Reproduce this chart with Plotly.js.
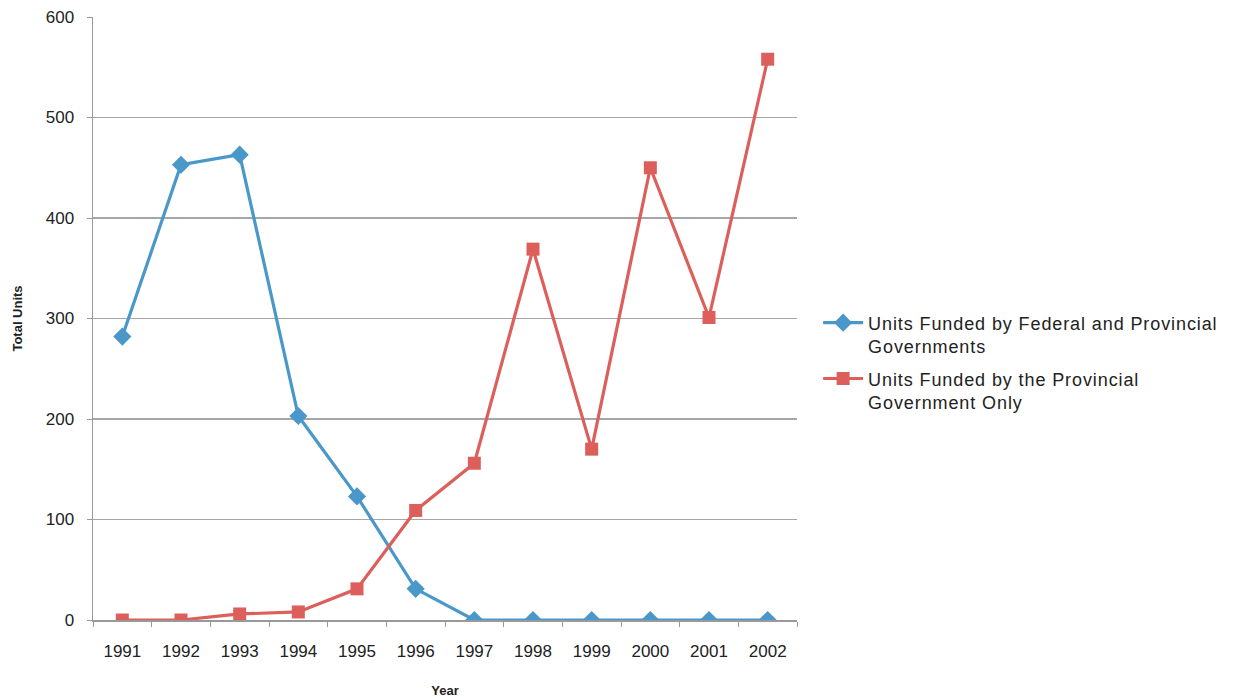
<!DOCTYPE html>
<html>
<head>
<meta charset="utf-8">
<script src="https://cdn.plot.ly/plotly-3.0.1.min.js"></script>
<style>
  html, body { margin: 0; padding: 0; background: #fff; }
  #chart { width: 1233px; height: 700px; }
  /* wider legend lettering; let the entries run past the measured legend box */
  #chart .legendtext { letter-spacing: 0.9px; }
  #chart .legend .scrollbox { clip-path: none !important; }
</style>
</head>
<body>
<div id="chart"></div>
<script>
// Housing units funded per year, by funding source
const years = ['1991','1992','1993','1994','1995','1996','1997','1998','1999','2000','2001','2002'];
const federalProvincial = [282, 453, 463, 203, 123, 31, 0, 0, 0, 0, 0, 0];
const provincialOnly = [0, 0, 6, 8, 31, 109, 156, 369, 170, 450, 301, 558];
const seriesNames = [
  'Units Funded by Federal and Provincial<br>Governments',
  'Units Funded by the Provincial<br>Government Only'
];

const blue = '#4a97c9';
const red = '#dc5f5b';

const traces = [
  {
    x: years, y: federalProvincial, name: seriesNames[0], legendgroup: 'fp',
    type: 'scatter', mode: 'lines+markers',
    line: { color: blue, width: 3.2 },
    marker: { symbol: 'diamond', size: 14, color: blue }
  },
  {
    x: years, y: provincialOnly, name: seriesNames[1], legendgroup: 'p',
    type: 'scatter', mode: 'lines+markers',
    line: { color: red, width: 3.2 },
    marker: { symbol: 'square', size: 13, color: red }
  }
];

const layout = {
  width: 1233, height: 700,
  margin: { l: 93, r: 436, t: 17, b: 80 },
  paper_bgcolor: '#fff', plot_bgcolor: '#fff',
  font: { family: 'Liberation Sans, Arial, sans-serif', color: '#222' },
  xaxis: {
    type: 'category', range: [-0.5, 11.5],
    tickson: 'boundaries', ticks: 'outside', ticklen: 5, tickcolor: '#999',
    ticklabelstandoff: 15,
    showline: true, linecolor: '#999', linewidth: 1.5,
    showgrid: false, zeroline: false,
    tickfont: { size: 17, color: '#222' },
    title: { text: '<b>Year</b>', font: { size: 13, color: '#222' }, standoff: 26 }
  },
  yaxis: {
    range: [0, 600], dtick: 100,
    ticks: 'outside', ticklen: 5, tickcolor: '#999',
    ticklabelstandoff: 9,
    showline: true, linecolor: '#999', linewidth: 1.5,
    showgrid: true, gridcolor: '#a6a6a6', gridwidth: 1.3,
    zeroline: false,
    tickfont: { size: 17, color: '#222' },
    title: { text: '<b>Total Units</b>', font: { size: 13, color: '#222' }, standoff: 20 }
  },
  legend: {
    x: 1.03, xanchor: 'left', y: 0.427, yanchor: 'middle',
    font: { size: 18, color: '#222' },
    valign: 'top',
    itemwidth: 40, tracegroupgap: 6
  },
  showlegend: true
};

Plotly.newPlot('chart', traces, layout, { displayModeBar: false, staticPlot: true });
</script>
</body>
</html>
